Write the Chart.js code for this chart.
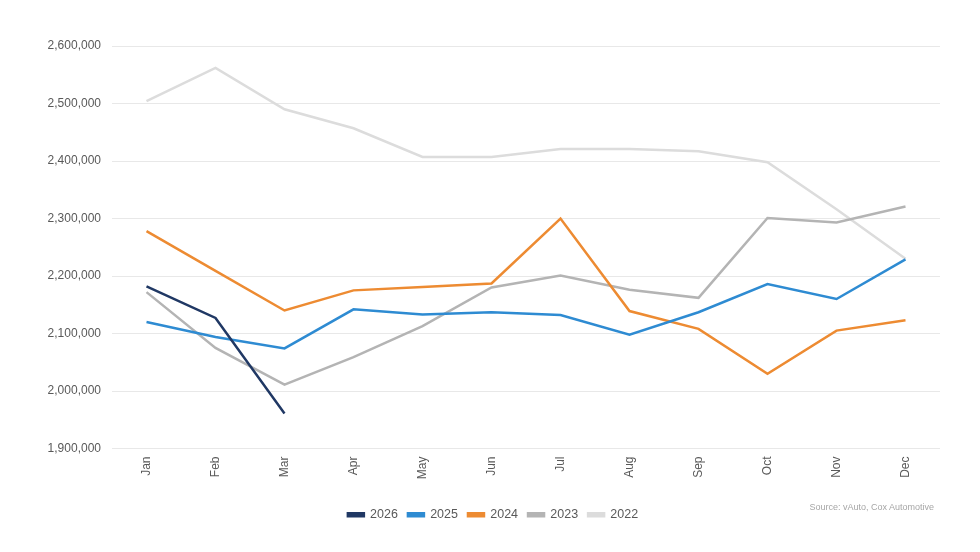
<!DOCTYPE html>
<html>
<head>
<meta charset="utf-8">
<script src="https://cdn.jsdelivr.net/npm/chart.js@4"></script>
<style>
  html, body { margin: 0; padding: 0; background: #fff; }
  .wrap { position: relative; width: 980px; height: 552px; }
  .source {
    position: absolute; right: 46px; top: 502px;
    font: 9px 'Liberation Sans', Arial, sans-serif; color: #a6a6a6;
  }
</style>
</head>
<body>
<div class="wrap">
  <canvas id="chart" width="980" height="552"></canvas>
  <div class="source">Source: vAuto, Cox Automotive</div>
</div>
<script>
'use strict';

// ── Data ─────────────────────────────────────────────────
const MONTHS = ['Jan','Feb','Mar','Apr','May','Jun','Jul','Aug','Sep','Oct','Nov','Dec'];

const Y2026 = [2182000, 2127000, 1961000];
const Y2025 = [2120000, 2094000, 2074000, 2142000, 2133000, 2137000, 2132000, 2098000, 2137000, 2186000, 2160000, 2229000];
const Y2024 = [2278000, 2209000, 2140000, 2175000, 2181000, 2187000, 2300000, 2139000, 2108000, 2030000, 2105000, 2123000];
const Y2023 = [2172000, 2075000, 2011000, 2059000, 2113000, 2180000, 2201000, 2176000, 2162000, 2301000, 2293000, 2321000];
const Y2022 = [2504000, 2562000, 2490000, 2457000, 2407000, 2407000, 2421000, 2421000, 2417000, 2398000, 2316000, 2230000];

const Y_MIN = 1900000;
const Y_MAX = 2600000;
const Y_STEP = 100000;

// ── Colours ──────────────────────────────────────────────
const C2026 = '#203864';
const C2025 = '#2e8bd2';
const C2024 = '#ed8b32';
const C2023 = '#b4b4b4';
const C2022 = '#dcdcdc';
const TICK  = '#595959';
const GRID  = '#e8e8e8';

function series(label, data, color) {
  return {
    label,
    data,
    borderColor: color,
    backgroundColor: color,
    borderWidth: 2.5,
    pointRadius: 0,
    tension: 0,
    fill: false,
  };
}

Chart.defaults.font.family = "'Liberation Sans', Arial, sans-serif";
Chart.defaults.font.size   = 12;
Chart.defaults.color       = TICK;

new Chart(document.getElementById('chart'), {
  type: 'line',
  data: {
    labels: MONTHS,
    datasets: [
      series('2026', Y2026, C2026),
      series('2025', Y2025, C2025),
      series('2024', Y2024, C2024),
      series('2023', Y2023, C2023),
      series('2022', Y2022, C2022),
    ],
  },
  options: {
    responsive: false,
    animation: false,
    // left padding shifts the centred legend to match the original
    layout: { padding: { top: 46, right: 40, left: 46, bottom: 21 } },
    plugins: {
      tooltip: { enabled: false },
      legend: {
        position: 'bottom',
        labels: {
          boxWidth: 16,
          boxHeight: 3,
          padding: 10,
          color: TICK,
          font: { size: 12.5 },
        },
      },
    },
    scales: {
      x: {
        offset: true,
        afterFit: s => { s.height = 50; },
        grid: { display: false, drawTicks: false },
        border: { display: false },
        ticks: { minRotation: 90, maxRotation: 90, padding: 8, color: TICK },
      },
      y: {
        min: Y_MIN,
        max: Y_MAX,
        afterFit: s => { s.width = 66; },
        grid: { color: GRID, drawTicks: false },
        border: { display: false },
        ticks: {
          stepSize: Y_STEP,
          padding: 11,
          color: TICK,
          callback: v => v.toLocaleString('en-US'),
        },
      },
    },
  },
});
</script>
</body>
</html>
